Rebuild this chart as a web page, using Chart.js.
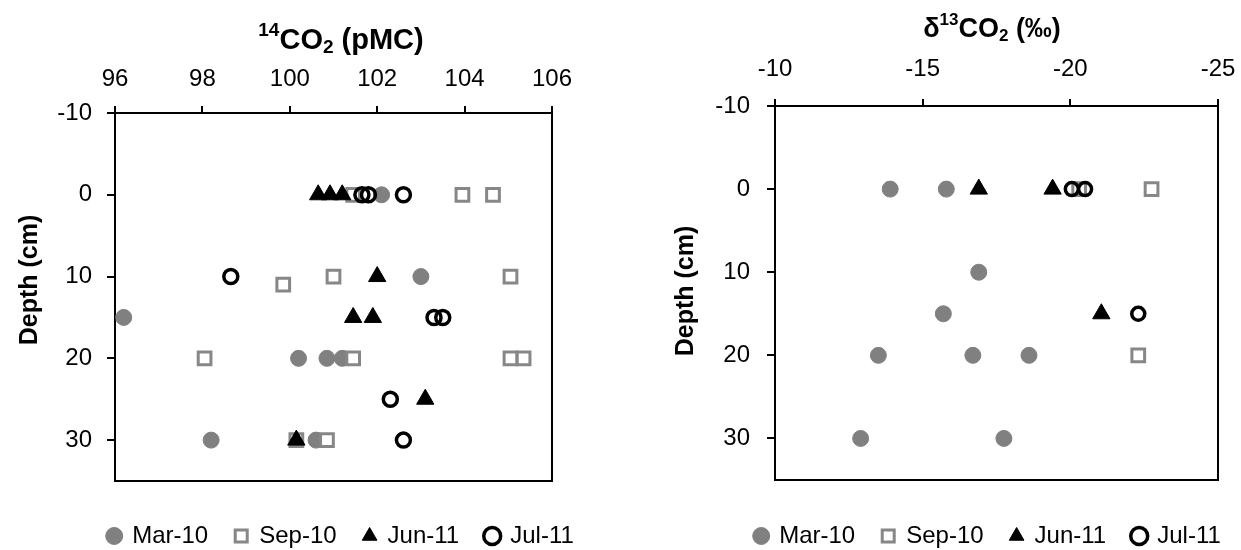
<!DOCTYPE html>
<html>
<head>
<meta charset="utf-8">
<script src="https://cdn.jsdelivr.net/npm/chart.js@4.4.1/dist/chart.umd.min.js"></script>
<style>
  html, body { margin: 0; padding: 0; background: #fff; }
  #wrap { position: relative; width: 1241px; height: 550px; overflow: hidden; }
  .panel { position: absolute; top: 0; height: 550px; }
  #p1 { left: 0; width: 640px; }
  #p2 { left: 640px; width: 601px; }
</style>
</head>
<body>
<div id="wrap">
  <div class="panel" id="p1"><canvas id="c14"></canvas></div>
  <div class="panel" id="p2"><canvas id="c13"></canvas></div>
</div>
<script>
// ── Data ────────────────────────────────────────────────────────────────────
const SERIES = ["Mar-10", "Sep-10", "Jun-11", "Jul-11"];

const DEPTH_TICKS = [-10, 0, 10, 20, 30];
const PMC_TICKS   = [96, 98, 100, 102, 104, 106];
const D13C_TICKS  = [-25, -20, -15, -10];

// 14CO2 (pMC) against depth (cm)
const pmcMar10   = [102.1, 103.0, 96.2, 100.2, 100.85, 101.2, 98.2, 100.6];
const pmcMar10D  = [0, 10, 15, 20, 20, 20, 30, 30];
const pmcSep10   = [101.45, 103.95, 104.65, 99.85, 101.0, 105.05, 98.05, 101.45, 105.05, 105.35, 100.15, 100.85];
const pmcSep10D  = [0, 0, 0, 11, 10, 10, 20, 20, 20, 20, 30, 30];
const pmcJun11   = [100.65, 100.92, 101.2, 102.0, 101.45, 101.9, 103.1, 100.15];
const pmcJun11D  = [0, 0, 0, 10, 15, 15, 25, 30];
const pmcJul11   = [101.65, 101.8, 102.6, 98.65, 103.3, 103.5, 102.3, 102.6];
const pmcJul11D  = [0, 0, 0, 10, 15, 15, 25, 30];

// d13CO2 (permil) against depth (cm)
const d13Mar10   = [-13.9, -15.8, -16.9, -15.7, -13.5, -16.7, -18.6, -12.9, -17.75];
const d13Mar10D  = [0, 0, 10, 15, 20, 20, 20, 30, 30];
const d13Sep10   = [-20.3, -22.75, -22.3];
const d13Sep10D  = [0, 0, 20];
const d13Jun11   = [-16.9, -19.4, -21.05];
const d13Jun11D  = [0, 0, 15];
const d13Jul11   = [-20.05, -20.5, -22.3];
const d13Jul11D  = [0, 0, 15];

// ── Helpers ─────────────────────────────────────────────────────────────────
const FONT = "'Liberation Sans', Arial, Helvetica, sans-serif";
Chart.defaults.font.family = FONT;
Chart.defaults.color = "#000";

const TICK_SIZE = 24;

const zip = (xs, ys) => xs.map((x, i) => ({ x, y: ys[i] }));

// marker look per campaign (same order as SERIES)
const MARKERS = [
    { pointStyle: "circle",   radius: 8,   backgroundColor: "#808080", borderColor: "#808080", borderWidth: 1 },
    { pointStyle: "rect",     radius: 9,   backgroundColor: "#ffffff", borderColor: "#878787", borderWidth: 3 },
    { pointStyle: "triangle", radius: 10,  backgroundColor: "#000000", borderColor: "#000000", borderWidth: 1 },
    { pointStyle: "circle",   radius: 7,   backgroundColor: "rgba(0,0,0,0)", borderColor: "#000000", borderWidth: 3.5 },
];

function makeDatasets(pairs, jul11Radius) {
    return pairs.map((pts, i) => {
        const m = MARKERS[i];
        const r = (i === 3 && jul11Radius) ? jul11Radius : m.radius;
        return {
            label: SERIES[i],
            data: pts,
            order: 4 - i,               // later campaigns are drawn on top
            pointStyle: m.pointStyle,
            pointRadius: r,
            pointHoverRadius: r,
            backgroundColor: m.backgroundColor,
            borderColor: m.borderColor,
            borderWidth: m.borderWidth,
            clip: false,
        };
    });
}

// Draws a bold title with optional super/subscript parts.
function drawRich(ctx, parts, size, x, y, rotate) {
    const small = Math.round(size * 0.64);
    const fontFor = (k) => `bold ${k ? small : size}px ${FONT}`;
    let w = 0;
    parts.forEach(([t, k]) => { ctx.font = fontFor(k); w += ctx.measureText(t).width; });
    ctx.save();
    ctx.translate(x, y);
    if (rotate) ctx.rotate(-Math.PI / 2);
    ctx.fillStyle = "#000";
    ctx.textAlign = "left";
    ctx.textBaseline = "alphabetic";
    let cx = -w / 2;
    parts.forEach(([t, k]) => {
        ctx.font = fontFor(k);
        const dy = k === "sup" ? -size * 0.44 : (k === "sub" ? size * 0.15 : 0);
        ctx.fillText(t, cx, dy);
        cx += ctx.measureText(t).width;
    });
    ctx.restore();
}

const framePlugin = {
    id: "frame",
    beforeDatasetsDraw(chart) {
        const { ctx, chartArea: a } = chart;
        ctx.save();
        ctx.strokeStyle = "#000";
        ctx.lineWidth = 2;
        ctx.strokeRect(a.left, a.top, a.right - a.left, a.bottom - a.top);
        ctx.restore();
    },
};

const titlesPlugin = {
    id: "titles",
    afterDraw(chart, args, opts) {
        (opts.items || []).forEach((it) => drawRich(chart.ctx, it.parts, it.size, it.x, it.y, it.rotate));
    },
};

// move the legend block to a fixed centre / top after the layout pass
const legendPlacePlugin = {
    id: "legendPlace",
    afterLayout(chart, args, opts) {
        const L = chart.legend;
        if (!L) return;
        const dx = opts.cx - (L.left + L.right) / 2;
        L.left += dx; L.right += dx;
        L.top = opts.top;
        L.bottom = chart.height;   // legend draws clipped to its own box
        L.height = L.bottom - L.top;
    },
};

function buildChart(canvasId, cfg) {
    return new Chart(document.getElementById(canvasId), {
        type: "scatter",
        data: { datasets: cfg.datasets },
        plugins: [framePlugin, titlesPlugin, legendPlacePlugin],
        options: {
            responsive: true,
            maintainAspectRatio: false,
            animation: false,
            events: [],
            layout: { padding: cfg.padding },
            scales: {
                x: {
                    type: "linear",
                    position: "top",
                    min: cfg.xMin,
                    max: cfg.xMax,
                    reverse: !!cfg.xReverse,
                    afterBuildTicks: (s) => { s.ticks = cfg.xTicks.map((v) => ({ value: v })); },
                    afterFit: (s) => { s.height = cfg.top; },
                    ticks: { font: { size: TICK_SIZE }, color: "#000", padding: cfg.xPad, maxRotation: 0 },
                    grid: { drawOnChartArea: false, drawTicks: true, tickLength: 7, color: "#000", lineWidth: 2 },
                    border: { display: true, color: "#000", width: 2 },
                },
                y: {
                    type: "linear",
                    reverse: true,
                    min: -10,
                    max: 35,
                    afterBuildTicks: (s) => { s.ticks = DEPTH_TICKS.map((v) => ({ value: v })); },
                    afterFit: (s) => { s.width = cfg.left; },
                    ticks: { font: { size: TICK_SIZE }, color: "#000", padding: cfg.yPad },
                    grid: { drawOnChartArea: false, drawTicks: true, tickLength: 8, color: "#000", lineWidth: 2 },
                    border: { display: true, color: "#000", width: 2 },
                },
            },
            plugins: {
                tooltip: { enabled: false },
                legend: {
                    position: "bottom",
                    maxHeight: 40,
                    labels: {
                        usePointStyle: true,
                        boxWidth: 12,
                        boxHeight: 12,
                        padding: 27,
                        font: { size: TICK_SIZE },
                        color: "#000",
                        sort: (a, b) => a.datasetIndex - b.datasetIndex,
                    },
                },
                legendPlace: { cx: cfg.legendCx, top: 536 - 27 - TICK_SIZE / 2 },
                titles: { items: cfg.titles },
            },
        },
    });
}

// ── Left panel: 14CO2 ──────────────────────────────────────────────────────
buildChart("c14", {
    datasets: makeDatasets([
        zip(pmcMar10, pmcMar10D),
        zip(pmcSep10, pmcSep10D),
        zip(pmcJun11, pmcJun11D),
        zip(pmcJul11, pmcJul11D),
    ]),
    xMin: 96, xMax: 106, xTicks: PMC_TICKS,
    top: 113, left: 115, xPad: 12, yPad: 15,
    padding: { left: 0, top: 0, right: 88, bottom: 29 },
    legendCx: 341,
    titles: [
        { parts: [["14", "sup"], ["CO", ""], ["2", "sub"], [" (pMC)", ""]], size: 29, x: 341, y: 49 },
        { parts: [["Depth (cm)", ""]], size: 25, x: 37, y: 280, rotate: true },
    ],
});

// ── Right panel: d13CO2 ────────────────────────────────────────────────────
buildChart("c13", {
    datasets: makeDatasets([
        zip(d13Mar10, d13Mar10D),
        zip(d13Sep10, d13Sep10D),
        zip(d13Jun11, d13Jun11D),
        zip(d13Jul11, d13Jul11D),
    ], 6.5),
    xMin: -25, xMax: -10, xReverse: true, xTicks: D13C_TICKS,
    top: 106, left: 135, xPad: 15, yPad: 17,
    padding: { left: 0, top: 0, right: 23, bottom: 30 },
    legendCx: 348,
    titles: [
        { parts: [["\u03B4", ""], ["13", "sup"], ["CO", ""], ["2", "sub"], [" (\u2030)", ""]], size: 27, x: 352, y: 37 },
        { parts: [["Depth (cm)", ""]], size: 25, x: 53, y: 291, rotate: true },
    ],
});
</script>
</body>
</html>
